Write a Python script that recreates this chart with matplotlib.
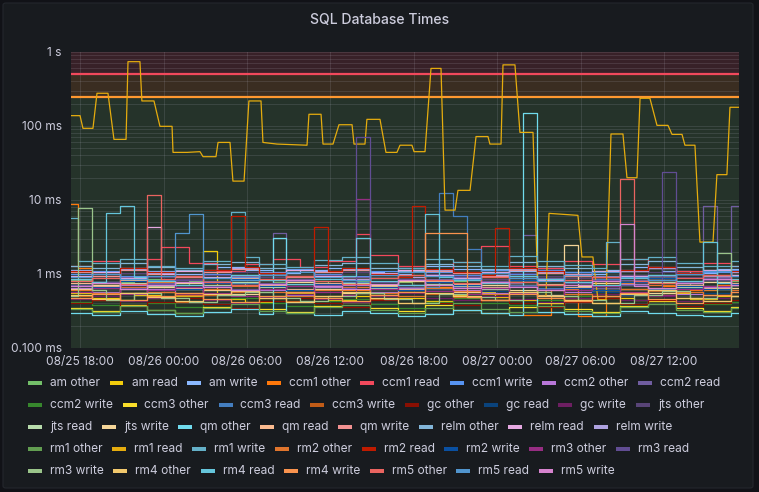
import numpy as np
import matplotlib
matplotlib.use("Agg")
import matplotlib.pyplot as plt
import matplotlib.dates as mdates
from matplotlib.patches import FancyBboxPatch, Rectangle
from datetime import datetime, timedelta

plt.rcParams['font.family'] = ['Inter', 'DejaVu Sans']

# ---------------- data (values in ms, one value per hour from start) ----------------
START = datetime(2023, 8, 25, 17, 20)

am_other = [0.82,0.82,0.75,0.75,0.78,0.85,0.85, 0.72,0.72,0.80,0.80,0.80,0.76,0.70, 0.70,0.78,0.85,0.85,0.80,0.74,0.74,
            0.80,0.88,0.88,0.78,0.72,0.72,0.80, 0.80,0.86,0.76,0.76,0.70,0.70,0.80, 0.84,0.84,0.75,0.75,0.82,0.90,0.90,
            0.78,0.72,0.72,0.80,0.85,0.85,0.80]
am_read = [0.55,0.55,0.48,0.48,0.45,0.52,0.52, 0.58,0.50,0.50,2.07,0.46,0.46,0.42, 0.42,0.50,0.55,0.55,0.48,0.44,0.44,
           0.50,0.56,0.56,0.47,0.47,0.43,0.43, 0.52,0.58,0.58,0.49,0.45,0.45,0.40, 0.40,0.47,0.53,0.53,0.48,0.48,0.44,
           0.50,0.55,0.55,0.46,0.46,0.51,0.51]
am_write = [1.15,1.15,1.05,1.05,1.2,1.2,1.1, 1.1,1.0,1.0,1.08,1.25,1.25,1.12, 1.12,1.02,1.02,1.15,1.15,1.22,1.22,
            1.08,1.08,1.0,1.0,1.12,1.3,1.3, 1.18,1.18,1.05,1.05,1.1,1.1,1.2, 1.2,1.06,1.06,1.0,1.15,1.15,1.25,
            1.25,1.1,1.1,1.04,1.04,1.18,1.18]
ccm1_other = [8.9,1.2,0.7,0.7,0.65,0.65,0.78, 0.78,0.85,0.85,0.7,0.7,0.62,0.62, 0.75,0.75,0.82,0.82,0.68,0.68,0.6,
              0.6,0.72,0.72,0.8,0.8,0.66,0.66, 0.74,0.74,0.85,0.85,0.7,0.28,0.28, 0.62,0.62,0.27,0.27,0.76,0.76,0.82,
              0.82,0.68,0.68,0.6,0.6,0.72,0.72]
ccm1_read = [1.3,1.3,1.5,1.5,1.2,1.2,1.6, 2.3,2.3,1.4,1.4,1.1,1.1,1.35, 1.35,1.6,1.6,1.25,1.25,1.5,1.5,
             3.5,1.8,1.8,1.3,1.3,1.1,1.1, 1.45,1.45,2.4,2.4,1.3,1.3,1.2, 1.2,1.5,1.5,1.35,1.35,1.6,1.6,
             1.25,1.25,1.1,1.1,1.4,1.4,1.3]
ccm1_write = [1.0,1.0,1.1,1.1,0.95,0.95,1.05, 1.05,1.15,1.15,1.0,1.0,0.92,0.92, 1.08,1.08,1.18,1.18,1.0,1.0,0.95,
              0.95,1.1,1.1,1.2,1.2,1.05,1.05, 0.98,0.98,1.12,1.12,1.0,1.0,1.15, 1.15,1.05,1.05,0.95,0.95,1.1,1.1,
              1.2,1.2,1.0,1.0,1.08,1.08,1.12]
ccm2_other = [0.65,0.65,0.58,0.58,0.7,0.7,0.62, 0.62,0.55,0.55,0.68,0.68,0.75,0.75, 0.6,0.6,0.52,0.52,0.66,0.66,0.72,
              0.72,0.58,0.58,0.64,0.64,0.78,0.78, 0.6,0.6,0.55,0.55,0.7,0.7,0.63, 0.63,0.57,0.57,0.68,0.68,0.74,0.74,
              0.6,0.6,0.54,0.54,0.66,0.66,0.7]
ccm2_read = [0.85,0.85,0.7,0.7,0.9,0.9,0.75, 0.75,0.65,0.65,0.8,0.8,0.95,0.95, 0.72,3.6,0.8,0.8,0.68,0.68,0.9,
             0.9,0.78,0.78,0.66,0.66,0.85,0.85, 0.92,0.92,0.7,0.7,0.75,3.4,0.88, 0.88,0.72,0.72,0.65,0.65,0.82,0.82,
             0.95,0.95,0.76,0.76,8.3,0.9,8.3]
ccm2_write = [0.42,0.42,0.38,0.38,0.45,0.45,0.4, 0.4,0.36,0.36,0.44,0.44,0.48,0.48, 0.4,0.4,0.37,0.37,0.43,0.43,0.46,
              0.46,0.39,0.39,0.35,0.35,0.42,0.42, 0.47,0.47,0.4,0.4,0.38,0.38,0.44, 0.44,0.5,0.5,0.41,0.41,0.36,0.36,
              0.43,0.43,0.47,0.47,0.39,0.39,0.42]
ccm3_other = [0.35,0.35,0.32,0.32,0.38,0.38,0.33, 0.33,0.3,0.3,0.36,0.36,0.4,0.4, 0.34,0.34,0.31,0.31,0.37,0.37,0.42,
              0.42,0.35,0.35,0.32,0.32,0.38,0.38, 0.33,0.33,0.3,0.3,0.36,0.36,0.41, 0.41,0.34,0.34,0.31,0.31,0.37,0.37,
              0.43,0.43,0.35,0.35,0.32,0.32,0.36]
ccm3_read = [0.7,0.7,0.78,0.78,0.65,0.65,0.82, 0.82,0.72,0.72,0.6,0.6,0.75,0.75, 0.85,0.85,0.68,0.68,0.62,0.62,0.78,
             0.78,0.88,0.88,0.7,0.7,0.66,12.6, 6.0,2.2,0.8,0.8,0.72,0.72,0.64, 0.64,0.78,0.78,0.86,0.86,0.7,0.7,
             0.62,0.62,0.76,0.76,0.84,0.84,0.7]
ccm3_write = [0.5,0.5,0.45,0.45,0.55,0.55,0.48, 0.48,0.42,0.42,0.52,0.52,0.58,0.58, 0.47,0.47,0.43,0.43,0.5,0.5,0.56,
              0.56,0.46,0.46,0.41,0.41,0.53,0.53, 0.49,0.49,0.44,0.44,0.57,0.57,0.5, 0.5,0.45,0.45,0.4,0.4,0.52,0.52,
              0.59,0.59,0.48,0.48,0.43,0.43,0.5]
gc_other = [0.4,0.4,0.44,0.44,0.37,0.37,0.42, 0.42,0.47,0.47,0.39,0.39,0.35,0.35, 0.43,0.43,0.48,0.48,0.4,0.4,0.36,
            0.36,0.44,0.44,0.5,0.5,0.41,0.41, 0.38,0.38,0.45,0.45,0.4,0.4,0.36, 0.36,0.42,0.42,0.47,0.47,0.39,0.39,
            0.44,0.44,0.37,0.37,0.41,0.41,0.45]
gc_read = [0.6,0.6,0.55,0.55,0.65,0.65,0.58, 0.58,0.52,0.52,0.62,0.62,0.68,0.68, 0.57,0.57,0.53,0.53,0.6,0.6,0.66,
           0.66,0.56,0.56,0.5,0.5,0.63,0.63, 0.7,0.7,0.59,0.59,0.54,0.54,0.61, 0.61,0.67,0.67,0.57,0.57,0.52,0.52,
           0.6,0.6,0.65,0.65,0.56,0.56,0.6]
gc_write = [0.46,0.46,0.5,0.5,0.43,0.43,0.48, 0.48,0.53,0.53,0.45,0.45,0.41,0.41, 0.49,0.49,0.54,0.54,0.46,0.46,0.42,
            0.42,0.5,0.5,0.55,0.55,0.47,0.47, 0.44,0.44,0.51,0.51,0.46,0.46,0.42, 0.42,0.48,0.48,0.53,0.53,0.45,0.45,
            0.5,0.5,0.43,0.43,0.47,0.47,0.51]
jts_other = [0.95,0.95,0.88,0.88,1.02,1.02,0.92, 0.92,0.85,0.85,0.98,0.98,1.08,1.08, 0.9,0.9,0.83,0.83,0.96,0.96,1.05,
             1.05,0.89,0.89,0.82,0.82,1.0,1.0, 0.93,0.93,0.86,0.86,1.04,1.04,0.95, 0.95,0.87,0.87,0.8,0.8,0.97,0.97,
             1.06,1.06,0.9,0.9,0.84,0.84,0.94]
jts_read = [0.7,0.7,0.65,0.65,0.75,0.75,0.68, 0.68,0.62,0.62,0.72,0.72,0.78,0.78, 0.66,0.66,0.61,0.61,0.7,0.7,0.76,
            0.76,0.64,0.64,0.6,0.6,0.73,0.73, 0.69,0.69,0.63,0.63,0.77,0.77,0.7, 0.7,0.64,0.64,0.6,0.6,0.72,0.72,
            0.79,0.79,0.67,0.67,0.62,0.62,0.7]
jts_write = [0.62,0.62,0.7,0.7,0.56,0.56,0.66, 0.66,0.75,0.75,0.6,0.6,0.53,0.53, 0.68,0.68,0.78,0.78,0.63,0.63,0.55,
             0.55,0.7,0.7,0.8,0.8,0.65,0.65, 0.58,0.58,0.72,0.72,0.6,0.6,0.52, 0.52,2.5,0.68,0.76,0.76,0.62,0.62,
             0.55,0.55,0.7,0.7,0.79,0.79,0.64]
qm_other = [0.3,0.3,0.28,0.28,0.32,0.32,0.29, 0.29,0.27,0.27,0.31,0.31,0.34,0.34, 0.29,3.1,0.3,0.3,0.28,0.28,0.32,
            0.32,0.3,0.3,0.27,0.27,0.29,0.29, 0.33,0.33,0.3,0.3,0.28,148.0,0.31, 0.31,0.29,0.29,0.27,0.27,0.32,0.32,
            0.3,0.3,0.28,0.28,0.27,0.27,0.3]
qm_read = [0.75,0.75,0.68,0.68,0.82,0.82,0.72, 0.72,0.65,0.65,0.78,0.78,0.88,0.88, 0.7,0.7,0.63,0.63,0.76,0.76,0.85,
           0.85,0.69,0.69,0.62,0.62,0.8,0.8, 0.73,0.73,0.66,0.66,0.84,0.84,0.74, 0.74,0.67,0.67,0.6,0.6,0.79,0.79,
           0.87,0.87,0.71,0.71,0.64,0.64,0.76]
qm_write = [1.05,1.05,0.95,0.95,1.12,1.12,1.0, 1.0,0.92,0.92,1.08,1.08,1.18,1.18, 0.98,0.98,0.9,0.9,1.06,1.06,1.15,
            1.15,0.97,0.97,0.91,0.91,1.1,1.1, 1.02,1.02,0.94,0.94,1.14,1.14,1.03, 1.03,0.95,0.95,0.9,0.9,1.09,1.09,
            1.19,1.19,0.99,0.99,0.93,0.93,1.05]
relm_other = [1.3,1.3,1.2,1.2,1.4,1.4,1.25, 1.25,1.15,1.15,1.35,1.35,1.45,1.45, 1.22,1.22,1.12,1.12,1.32,1.32,1.42,
              1.42,1.2,1.2,1.1,1.1,1.38,1.38, 1.28,1.28,1.18,1.18,1.44,1.44,1.3, 1.3,1.19,1.19,1.1,1.1,1.36,1.36,
              1.48,1.48,1.24,1.24,1.14,1.14,1.3]
relm_read = [0.95,0.95,1.05,1.05,0.88,0.88,4.3, 1.0,1.1,1.1,0.92,0.92,0.85,0.85, 1.02,1.02,1.12,1.12,0.94,0.94,0.86,
             0.86,1.04,1.04,1.15,1.15,0.97,0.97, 0.89,0.89,1.06,1.06,0.93,0.93,0.84, 0.84,1.0,1.0,1.1,1.1,0.95,0.95,
             0.87,0.87,1.03,1.03,1.13,1.13,0.96]
relm_write = [1.1,1.1,1.0,1.0,1.16,1.16,1.04, 1.04,0.94,0.94,1.12,1.12,1.2,1.2, 1.02,1.02,0.93,0.93,1.09,1.09,1.17,
              1.17,1.0,1.0,0.92,0.92,1.13,1.13, 1.06,1.06,0.96,0.96,1.18,1.18,1.07, 1.07,0.97,0.97,0.91,0.91,1.11,1.11,
              1.2,1.2,1.01,1.01,0.95,0.95,1.08]
rm1_other = [0.34,0.34,0.31,0.31,0.37,0.37,0.33, 0.33,0.3,0.3,0.35,0.35,0.39,0.39, 0.32,0.32,0.3,0.3,0.36,0.36,0.38,
             0.38,0.33,0.33,0.3,0.3,0.35,0.35, 0.4,0.4,0.34,0.34,0.31,0.31,0.37, 0.37,0.32,0.32,0.3,0.3,0.36,0.36,
             0.39,0.39,0.33,0.33,0.31,0.31,0.35]
# rm1 read is the slow series: corner points (hours from start, ms)
rm1_read_hours = [0.0,0.65,0.86,1.58,1.87,2.66,3.09,3.96,4.1,4.96,5.1,5.97,6.4,7.27,7.34,8.35,9.28,9.5,10.43,10.58,
                  11.44,11.65,12.45,12.8,13.67,13.81,14.82,16.98,17.12,17.99,18.13,18.85,19.28,20.22,20.36,21.15,
                  21.29,22.23,22.66,23.45,23.67,24.53,24.68,25.47,25.9,26.62,26.91,27.63,27.84,28.71,29.14,30.0,
                  30.14,30.94,31.08,31.94,32.3,33.24,33.6,34.17,34.39,36.47,36.76,37.55,37.91,38.49,38.85,39.71,
                  40.0,40.72,40.94,41.65,42.16,42.95,43.24,43.96,44.17,44.89,45.25,46.19,46.47,47.19,47.41,48.1]
rm1_read_ms = [138,138,93,93,277,277,66,66,740,740,218,218,99,99,44,44,45,38.5,38.5,60,
               60,18,18,218,218,60,57,55,144,144,57,57,104,104,57,57,
               123,123,44,44,55,55,45,45,600,600,7.3,7.3,13.5,13.5,72,72,
               57,57,670,670,82,82,0.5,0.5,6.6,6.2,1.7,1.7,0.45,0.45,78,78,
               20,20,237,237,102,102,77,77,55,55,2.7,2.7,22,22,179,179]
rm1_write = [5.7,1.5,1.4,1.4,1.6,1.6,1.3, 1.3,1.2,1.2,1.5,1.5,6.9,1.7, 1.35,1.35,1.25,1.25,1.55,1.55,1.7,
             1.7,1.4,1.4,1.22,1.22,1.6,1.6, 1.45,1.45,1.3,1.3,1.75,1.75,1.5, 1.5,1.32,1.32,1.2,2.7,1.58,1.58,
             1.72,1.72,1.42,1.42,1.28,1.28,1.5]
rm2_other = [0.6,0.6,0.55,0.55,0.66,0.66,0.58, 0.58,0.52,0.52,0.63,0.63,0.69,0.69, 0.57,0.57,0.51,0.51,0.61,0.61,0.67,
             0.67,0.56,0.56,0.5,0.5,0.64,0.64, 0.59,0.59,0.53,0.53,0.68,0.68,0.6, 0.6,0.54,0.54,0.5,0.5,0.62,0.62,
             0.7,0.7,0.57,0.57,0.52,0.52,0.6]
rm2_read = [1.1,1.1,1.0,1.0,1.2,1.2,1.05, 1.05,0.95,0.95,1.15,1.15,6.0,1.25, 1.02,1.02,0.93,0.93,4.3,1.1,1.2,
            1.2,1.0,1.0,0.92,8.3,1.18,1.18, 1.08,1.08,0.97,4.2,1.22,1.22,1.1, 1.1,0.98,0.98,0.9,0.9,1.14,1.14,
            1.25,1.25,1.03,1.03,0.96,0.96,1.1]
rm2_write = [0.72,0.72,0.66,0.66,0.8,0.8,0.7, 0.7,0.63,0.63,0.76,0.76,0.86,0.86, 0.68,0.68,0.61,0.61,0.74,0.74,0.83,
             0.83,0.67,0.67,0.6,0.6,0.78,0.78, 0.71,0.71,0.64,0.64,0.82,0.82,0.72, 0.72,0.65,0.65,0.6,0.6,0.77,0.77,
             0.88,0.88,0.69,0.69,0.62,0.62,0.74]
rm3_other = [0.58,0.58,0.64,0.64,0.53,0.53,0.6, 0.6,0.67,0.67,0.56,0.56,0.51,0.51, 0.62,0.62,0.69,0.69,0.57,0.57,0.52,
             10.4,0.63,0.63,0.7,0.7,0.59,0.59, 0.54,0.54,0.65,0.65,0.56,0.56,0.51, 0.51,0.61,0.61,0.68,0.68,0.57,0.57,
             0.52,0.52,0.63,0.63,0.69,0.69,0.58]
rm3_read = [0.7,0.7,0.78,0.78,0.65,0.65,0.74, 0.74,0.82,0.82,0.68,0.68,0.62,0.62, 0.76,0.76,0.85,0.85,0.7,0.7,0.64,
            72.0,0.77,0.77,0.86,0.86,0.72,0.72, 0.66,0.66,0.8,0.8,0.69,0.69,0.63, 0.63,0.75,0.75,0.84,0.84,0.71,0.71,
            0.65,24.0,0.79,0.79,0.88,0.88,0.72]
rm3_write = [0.5,7.7,0.6,0.45,0.45,0.55,0.55, 0.48,0.48,0.42,0.42,0.52,0.52,0.58, 0.58,0.47,0.47,0.43,0.43,0.5,0.5,
             0.56,0.56,0.46,0.46,0.41,0.41,0.53, 0.53,0.49,0.49,0.44,0.44,0.57,0.57, 0.5,0.5,0.45,0.45,0.4,0.4,0.52,
             0.52,0.59,0.59,0.48,0.48,1.9,0.5]
rm4_other = [0.52,0.52,0.46,0.46,0.56,0.56,0.49, 0.49,0.43,0.43,0.54,0.54,0.59,0.59, 0.48,0.48,0.42,0.42,0.51,0.51,0.57,
             0.57,0.47,0.47,0.41,0.41,0.55,0.55, 0.5,0.5,0.44,0.44,0.58,0.58,0.51, 0.51,0.45,0.45,0.4,0.4,0.53,0.53,
             0.6,0.6,0.48,0.48,0.43,0.43,0.5]
rm4_read = [0.85,0.85,0.78,6.7,8.3,0.9,0.8, 0.8,0.72,0.72,0.88,0.88,0.96,0.96, 0.82,0.82,0.74,0.74,0.86,0.86,0.93,
            3.1,0.8,0.8,0.71,0.71,6.5,0.9, 0.84,0.84,0.76,0.76,0.95,0.95,0.85, 0.85,0.77,0.77,0.7,0.7,0.89,0.89,
            0.98,0.98,0.81,0.81,2.7,0.75,0.86]
rm4_write = [0.48,0.48,0.53,0.53,0.44,0.44,0.5, 0.5,0.56,0.56,0.46,0.46,0.42,0.42, 0.51,0.51,0.57,0.57,0.47,0.47,0.43,
             0.43,0.52,0.52,0.58,0.58,3.6,3.6, 3.6,0.49,0.45,0.45,0.54,0.54,0.48, 0.48,0.43,0.43,0.5,0.5,0.55,0.55,
             0.46,0.46,0.41,0.41,0.52,0.52,0.57]
rm5_other = [0.8,0.8,0.88,0.88,0.74,0.74,11.7, 0.85,0.93,0.93,0.78,0.78,0.72,0.72, 0.86,0.86,0.95,0.95,0.8,0.8,0.73,
             0.73,0.87,0.87,0.97,0.97,0.82,0.82, 0.75,0.75,0.9,0.9,0.79,0.79,0.71, 0.71,0.84,0.84,0.92,0.92,19.0,0.81,
             0.76,0.76,0.89,0.89,0.98,0.98,0.83]
rm5_read = [0.92,0.92,1.0,1.0,0.85,0.85,0.95, 0.95,3.6,6.4,0.88,0.88,0.82,0.82, 0.97,0.97,1.06,1.06,0.9,0.9,0.83,
            0.83,0.98,0.98,1.08,1.08,0.93,0.93, 0.86,0.86,1.02,1.02,0.89,0.89,0.81, 0.81,0.96,0.96,1.05,1.05,0.91,0.91,
            0.84,0.84,0.99,0.99,1.09,1.09,0.94]
rm5_write = [0.68,0.68,0.75,0.75,0.63,0.63,0.71, 0.71,0.79,0.79,0.66,0.66,0.61,0.61, 0.73,0.73,0.82,0.82,0.69,0.69,0.62,
             0.62,0.74,0.74,0.84,0.84,0.7,0.7, 0.64,0.64,0.77,0.77,0.67,0.67,0.6, 0.6,0.72,0.72,0.8,0.8,4.8,0.69,
             0.65,0.65,0.76,0.76,0.85,0.85,0.7]

series_names = ["am other", "am read", "am write", "ccm1 other", "ccm1 read", "ccm1 write", "ccm2 other", "ccm2 read",
                "ccm2 write", "ccm3 other", "ccm3 read", "ccm3 write", "gc other", "gc read", "gc write", "jts other",
                "jts read", "jts write", "qm other", "qm read", "qm write", "relm other", "relm read", "relm write",
                "rm1 other", "rm1 read", "rm1 write", "rm2 other", "rm2 read", "rm2 write", "rm3 other", "rm3 read",
                "rm3 write", "rm4 other", "rm4 read", "rm4 write", "rm5 other", "rm5 read", "rm5 write"]
series_values = [am_other, am_read, am_write, ccm1_other, ccm1_read, ccm1_write, ccm2_other, ccm2_read,
                 ccm2_write, ccm3_other, ccm3_read, ccm3_write, gc_other, gc_read, gc_write, jts_other,
                 jts_read, jts_write, qm_other, qm_read, qm_write, relm_other, relm_read, relm_write,
                 rm1_other, None, rm1_write, rm2_other, rm2_read, rm2_write, rm3_other, rm3_read,
                 rm3_write, rm4_other, rm4_read, rm4_write, rm5_other, rm5_read, rm5_write]
series_colors = ["#73BF69", "#F2CC0C", "#8AB8FF", "#FF780A", "#F2495C", "#5794F2", "#B877D9", "#705DA0",
                 "#37872D", "#FADE2A", "#447EBF", "#C15C17", "#890F02", "#0A437C", "#6D1F62", "#584477",
                 "#B7DBAB", "#F4D598", "#70DBED", "#F9BA8F", "#F29191", "#82B5D8", "#E5A8E2", "#AEA2E0",
                 "#629E51", "#E5AC0E", "#64B0C8", "#E0752D", "#BF1B00", "#0A50A1", "#962D82", "#614D93",
                 "#9AC48A", "#F2C96D", "#65C5DB", "#F9934E", "#EA6460", "#5195CE", "#D683CE"]
legend_rows = [series_names[0:8], series_names[8:16], series_names[16:24], series_names[24:32], series_names[32:39]]

threshold_orange = 250.0   # ms
threshold_red = 500.0      # ms

# ---------------- figure ----------------
W, H = 759, 492
fig = plt.figure(figsize=(W / 100, H / 100), dpi=100, facecolor="#111217")

def fx(px):
    return px / W

def fy(py):
    return 1 - py / H

panel = FancyBboxPatch((fx(3), fy(488)), fx(750), (485) / H, boxstyle="round,pad=0,rounding_size=0.004",
                       transform=fig.transFigure, facecolor="#181b1f", edgecolor="#24272d", linewidth=0.8,
                       zorder=-10)
fig.patches.append(panel)

fig.text(fx(380), fy(20), "SQL Database Times", ha="center", va="center", color="#ccccdc",
         fontsize=10.1, fontweight="medium")

ax = fig.add_axes([fx(71), fy(348), fx(739 - 71), (348 - 52) / H])
ax.set_zorder(1)
ax.set_facecolor("#181b1f")
for s in ax.spines.values():
    s.set_visible(False)

ax.set_yscale("log")
ax.set_ylim(0.1, 1000)
t0 = START
t1 = START + timedelta(hours=48.06)
ax.set_xlim(t0, t1)

# threshold regions
ax.axhspan(0.1, threshold_orange, color="#73BF69", alpha=0.15, lw=0, zorder=0)
ax.axhspan(threshold_orange, threshold_red, color="#FF9830", alpha=0.15, lw=0, zorder=0)
ax.axhspan(threshold_red, 1000, color="#F2495C", alpha=0.15, lw=0, zorder=0)

ax.yaxis.set_major_locator(matplotlib.ticker.LogLocator(base=10, numticks=10))
ax.yaxis.set_minor_locator(matplotlib.ticker.LogLocator(base=10, subs=np.arange(2, 10), numticks=20))
ax.xaxis.set_major_locator(mdates.HourLocator(byhour=[0, 6, 12, 18]))
ax.xaxis.set_major_formatter(mdates.DateFormatter("%m/%d %H:%M"))
ylabels = {1000: "1 s", 100: "100 ms", 10: "10 ms", 1: "1 ms", 0.1: "0.100 ms"}
ax.yaxis.set_major_formatter(matplotlib.ticker.FuncFormatter(
    lambda v, p: min(ylabels.items(), key=lambda kv: abs(np.log10(kv[0]) - np.log10(v)))[1]
    if v > 0 else ""))
ax.yaxis.set_minor_formatter(matplotlib.ticker.NullFormatter())
ax.tick_params(which="both", length=0, labelcolor="#ccccdc", labelsize=8.6)
ax.tick_params(axis="y", pad=6.5)
ax.tick_params(axis="x", pad=6)
ax.set_axisbelow(True)
ax.grid(True, which="both", axis="y", color="#ccccdc", alpha=0.13, lw=0.75)
ax.grid(True, which="major", axis="x", color="#ccccdc", alpha=0.13, lw=0.75)

for name, vals, col in zip(series_names, series_values, series_colors):
    if vals is None:
        times = [START + timedelta(hours=h) for h in rm1_read_hours]
        ax.plot(times, rm1_read_ms, color=col, lw=0.9, zorder=3)
    else:
        times = [START + timedelta(hours=float(h)) for h in np.arange(len(vals))]
        ax.plot(times, vals, color=col, lw=0.9, drawstyle="steps-mid", zorder=3)

ax.axhline(threshold_red, color="#F2495C", lw=1.6, zorder=2)
ax.axhline(threshold_orange, color="#FF9830", lw=1.6, zorder=2)

# legend (Grafana list style)
fig.canvas.draw()
renderer = fig.canvas.get_renderer()
color_of = dict(zip(series_names, series_colors))
for ri, row in enumerate(legend_rows):
    y = 383 + 22 * ri
    x = 28.0
    for name in row:
        fig.patches.append(Rectangle((fx(x), fy(y + 2)), 14 / W, 4 / H, transform=fig.transFigure,
                                     facecolor=color_of[name], edgecolor="none"))
        t = fig.text(fx(x + 22), fy(y), name, ha="left", va="center", color="#ccccdc", fontsize=8.6)
        w = t.get_window_extent(renderer).width
        x = x + 22 + w + 9.5

fig.savefig("out.png", dpi=100, facecolor=fig.get_facecolor())
